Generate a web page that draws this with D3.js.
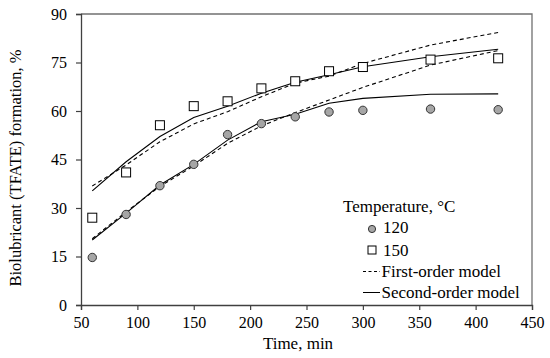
<!DOCTYPE html>
<html>
<head>
<meta charset="utf-8">
<script src="https://cdn.jsdelivr.net/npm/d3@7"></script>
<style>
  body { margin: 0; background: #fff; }
  svg text { font-family: "Liberation Serif", "Times New Roman", serif; fill: #000; }
</style>
</head>
<body>
<div id="chart"></div>
<script>
// sampling times, min
const times = [60, 90, 120, 150, 180, 210, 240, 270, 300, 360, 420]

// measured formation, %
const exp120 = [14.7, 28.0, 36.9, 43.5, 52.7, 56.1, 58.2, 59.7, 60.2, 60.6, 60.4]
const exp150 = [27.0, 41.0, 55.6, 61.5, 63.0, 67.0, 69.2, 72.3, 73.6, 75.9, 76.3]

// model curves
const first120 = [20.5, 28.8, 36.7, 43.0, 50.0, 55.4, 59.5, 63.4, 67.3, 74.2, 78.7]
const second120 = [20.1, 28.4, 37.1, 43.5, 51.0, 56.7, 59.0, 62.4, 63.9, 65.2, 65.3]
const first150 = [36.8, 43.3, 50.5, 56.0, 59.8, 64.4, 68.6, 70.8, 74.7, 80.4, 84.3]
const second150 = [35.3, 44.3, 52.1, 58.0, 61.5, 65.5, 68.9, 71.2, 73.7, 76.8, 79.1]

const xTicks = [50, 100, 150, 200, 250, 300, 350, 400, 450]
const yTicks = [0, 15, 30, 45, 60, 75, 90]

const W = 550, H = 358
const margin = { left: 81, right: 18, top: 14, bottom: 53 }

const svg = d3.select("#chart").append("svg")
	.attr("width", W)
	.attr("height", H)

const x = d3.scaleLinear().domain([50, 450]).range([margin.left, W - margin.right])
const y = d3.scaleLinear().domain([0, 90]).range([H - margin.bottom, margin.top])

const axisColor = "#404040"
const tickFont = "16px"
const titleFont = "17px"

// frame (top + right)
svg.append("path")
	.attr("d", `M${x(50)},${y(90)}H${x(450)}V${y(0)}`)
	.attr("fill", "none")
	.attr("stroke", "#707070")
	.attr("stroke-width", 1.3)

// axes
const xAxis = svg.append("g")
	.attr("transform", `translate(0,${y(0)})`)
	.call(d3.axisBottom(x).tickValues(xTicks).tickSize(5).tickPadding(7))
const yAxis = svg.append("g")
	.attr("transform", `translate(${x(50)},0)`)
	.call(d3.axisLeft(y).tickValues(yTicks).tickSize(5).tickPadding(9))

for (const g of [xAxis, yAxis]) {
	g.select(".domain").attr("stroke", axisColor).attr("stroke-width", 1.3)
	g.selectAll(".tick line").attr("stroke", axisColor).attr("stroke-width", 1.2)
	g.selectAll(".tick text")
		.style("font-family", "Liberation Serif, serif")
		.style("font-size", tickFont)
		.attr("fill", "#000")
}

// axis titles
svg.append("text")
	.attr("x", 298)
	.attr("y", 349)
	.attr("text-anchor", "middle")
	.style("font-size", titleFont)
	.text("Time, min")

svg.append("text")
	.attr("transform", `translate(21,168) rotate(-90)`)
	.attr("text-anchor", "middle")
	.style("font-size", "16.5px")
	.text("Biolubricant (TFATE) formation, %")

// model lines
const line = d3.line()
	.x((d, i) => x(times[i]))
	.y(d => y(d))

const models = [
	{ values: first150, dash: "4,3" },
	{ values: first120, dash: "4,3" },
	{ values: second150, dash: null },
	{ values: second120, dash: null },
]

svg.append("g").selectAll("path")
	.data(models)
	.join("path")
	.attr("d", d => line(d.values))
	.attr("fill", "none")
	.attr("stroke", "#000")
	.attr("stroke-width", 1.1)
	.attr("stroke-dasharray", d => d.dash)

// measured points
svg.append("g").selectAll("circle")
	.data(exp120)
	.join("circle")
	.attr("cx", (d, i) => x(times[i]))
	.attr("cy", d => y(d))
	.attr("r", 4.2)
	.attr("fill", "#a6a6a6")
	.attr("stroke", "#333")
	.attr("stroke-width", 1)

const sq = 9
svg.append("g").selectAll("rect")
	.data(exp150)
	.join("rect")
	.attr("x", (d, i) => x(times[i]) - sq / 2)
	.attr("y", d => y(d) - sq / 2)
	.attr("width", sq)
	.attr("height", sq)
	.attr("fill", "#fff")
	.attr("stroke", "#000")
	.attr("stroke-width", 1)

// legend
const legendFont = "17px"
const lg = svg.append("g")
lg.append("text")
	.attr("x", 343)
	.attr("y", 211.5)
	.style("font-size", legendFont)
	.text("Temperature, °C")

lg.append("circle")
	.attr("cx", 372).attr("cy", 229).attr("r", 3.6)
	.attr("fill", "#a6a6a6").attr("stroke", "#333")
lg.append("text").attr("x", 383).attr("y", 233).style("font-size", legendFont).text("120")

lg.append("rect")
	.attr("x", 368).attr("y", 246).attr("width", 8).attr("height", 8)
	.attr("fill", "#fff").attr("stroke", "#000")
lg.append("text").attr("x", 383).attr("y", 255.5).style("font-size", legendFont).text("150")

lg.append("line")
	.attr("x1", 363).attr("x2", 380).attr("y1", 271.5).attr("y2", 271.5)
	.attr("stroke", "#000").attr("stroke-dasharray", "3,2.5")
lg.append("text").attr("x", 381.5).attr("y", 277).style("font-size", legendFont).text("First-order model")

lg.append("line")
	.attr("x1", 363).attr("x2", 380).attr("y1", 292.5).attr("y2", 292.5)
	.attr("stroke", "#000")
lg.append("text").attr("x", 381.5).attr("y", 297.5).style("font-size", legendFont).text("Second-order model")
</script>
</body>
</html>
